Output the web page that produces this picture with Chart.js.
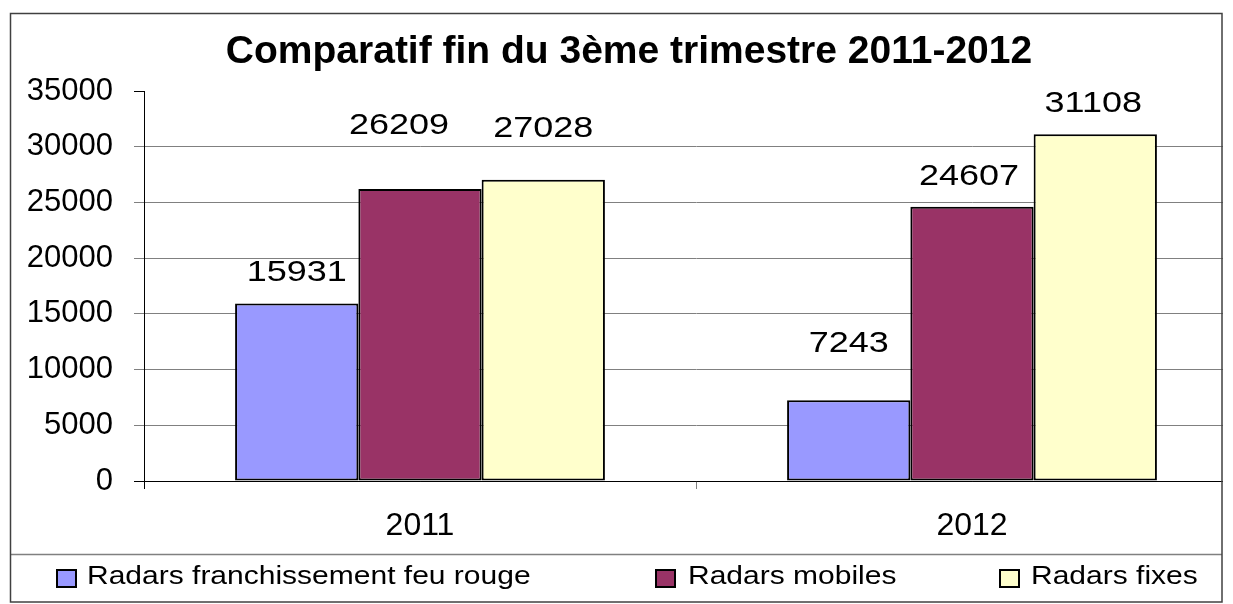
<!DOCTYPE html>
<html>
<head>
<meta charset="utf-8">
<script src="https://cdn.jsdelivr.net/npm/chart.js@4.4.1/dist/chart.umd.min.js"></script>
<style>
  html, body { margin: 0; padding: 0; background: #fff; overflow: hidden; width: 1233px; height: 604px; }
  #wrap { position: absolute; left: 0; top: 0; width: 1250px; height: 604px; }
</style>
</head>
<body>
<div id="wrap"><canvas id="c" width="1250" height="604"></canvas></div>
<script>
const titleText = 'Comparatif fin du 3ème trimestre 2011-2012';
const categories = ['2011', '2012'];
const seriesNames = ['Radars franchissement feu rouge', 'Radars mobiles', 'Radars fixes'];
const redLightValues = [15931, 7243];
const mobileValues = [26209, 24607];
const fixedValues = [27028, 31108];
const seriesColors = ['#9999FF', '#993366', '#FFFFCC'];
const yMin = 0, yMax = 35000, yStep = 5000;

// label placement (pixels above the top of each bar / horizontal shift), per series
const labelLift = [[31, 57], [63, 30], [51, 31]];
const labelShift = [[0, 0], [-21, -3], [0, -2]];

const FONT = "'Liberation Sans', Arial, sans-serif";

function stretchedText(ctx, text, x, y, sx, align) {
  ctx.save();
  ctx.translate(x, y);
  ctx.scale(sx, 1);
  ctx.textAlign = align;
  ctx.fillText(text, 0, 0);
  ctx.restore();
}

const dataLabels = {
  id: 'dataLabels',
  afterDatasetsDraw(chart) {
    const ctx = chart.ctx;
    ctx.save();
    ctx.font = '30px ' + FONT;
    ctx.fillStyle = '#000';
    ctx.textBaseline = 'middle';
    chart.data.datasets.forEach((ds, i) => {
      chart.getDatasetMeta(i).data.forEach((el, j) => {
        stretchedText(ctx, String(ds.data[j]), el.x + labelShift[i][j], el.y - labelLift[i][j], 1.2, 'center');
      });
    });
    ctx.restore();
  }
};

const frame = {
  id: 'frame',
  afterDraw(chart) {
    const ctx = chart.ctx;
    ctx.save();
    ctx.fillStyle = '#fff';
    ctx.fillRect(1223, 0, chart.width - 1223, chart.height);
    ctx.strokeStyle = '#808080';
    ctx.lineWidth = 1.5;
    ctx.beginPath();
    ctx.moveTo(10, 554.5);
    ctx.lineTo(1222, 554.5);
    ctx.stroke();
    ctx.strokeStyle = '#404040';
    ctx.lineWidth = 1.5;
    ctx.strokeRect(10.5, 13.5, 1211.5, 588.5);
    // legend
    const itemX = [[57, 87], [656, 688], [1000, 1031]];
    ctx.font = '25px ' + FONT;
    ctx.textBaseline = 'middle';
    chart.data.datasets.forEach((ds, i) => {
      const [bx, tx] = itemX[i];
      ctx.fillStyle = ds.backgroundColor;
      ctx.fillRect(bx, 570, 19, 17);
      ctx.strokeStyle = '#000';
      ctx.lineWidth = 2;
      ctx.strokeRect(bx, 570, 19, 17);
      ctx.fillStyle = '#000';
      stretchedText(ctx, ds.label, tx, 577, 1.2, 'left');
    });
    ctx.restore();
  }
};

new Chart(document.getElementById('c'), {
  type: 'bar',
  data: {
    labels: categories,
    datasets: [
      { label: seriesNames[0], data: redLightValues, backgroundColor: seriesColors[0] },
      { label: seriesNames[1], data: mobileValues, backgroundColor: seriesColors[1] },
      { label: seriesNames[2], data: fixedValues, backgroundColor: seriesColors[2] }
    ].map(d => Object.assign(d, { borderColor: '#000', borderWidth: 2, borderSkipped: false, categoryPercentage: 0.67, barPercentage: 1.0 }))
  },
  options: {
    responsive: false,
    animation: false,
    devicePixelRatio: 1,
    layout: { padding: { left: 10, right: 2, top: 15, bottom: 50 } },
    plugins: {
      legend: { display: false },
      tooltip: { enabled: false },
      title: {
        display: true,
        text: titleText,
        color: '#000',
        font: { family: FONT, size: 39, weight: 'bold', lineHeight: 1.2 },
        padding: { top: 14, bottom: 15.2 }
      }
    },
    scales: {
      x: {
        afterFit(scale) { scale.height = 73; },
        grid: {
          offset: true,
          drawOnChartArea: false,
          drawTicks: true,
          tickLength: 8,
          tickColor: (c) => c.index === 0 ? '#000' : '#808080'
        },
        border: { display: true, color: '#000', width: 1 },
        ticks: { color: '#000', font: { family: FONT, size: 32 }, padding: 18, maxRotation: 0 }
      },
      y: {
        min: yMin, max: yMax,
        afterFit(scale) { scale.width = 134; },
        grid: {
          color: (c) => c.tick.value === yMax ? 'rgba(0,0,0,0)' : (c.tick.value === 0 ? '#000' : '#808080'),
          tickColor: (c) => (c.tick.value === yMax || c.tick.value === 0) ? '#000' : '#808080',
          lineWidth: 1,
          drawTicks: true,
          tickLength: 10
        },
        border: { display: true, color: '#000', width: 1 },
        ticks: { stepSize: yStep, color: '#000', font: { family: FONT, size: 31 }, padding: 21,
                 callback: (v) => String(v) }
      }
    }
  },
  plugins: [dataLabels, frame]
});
</script>
</body>
</html>
